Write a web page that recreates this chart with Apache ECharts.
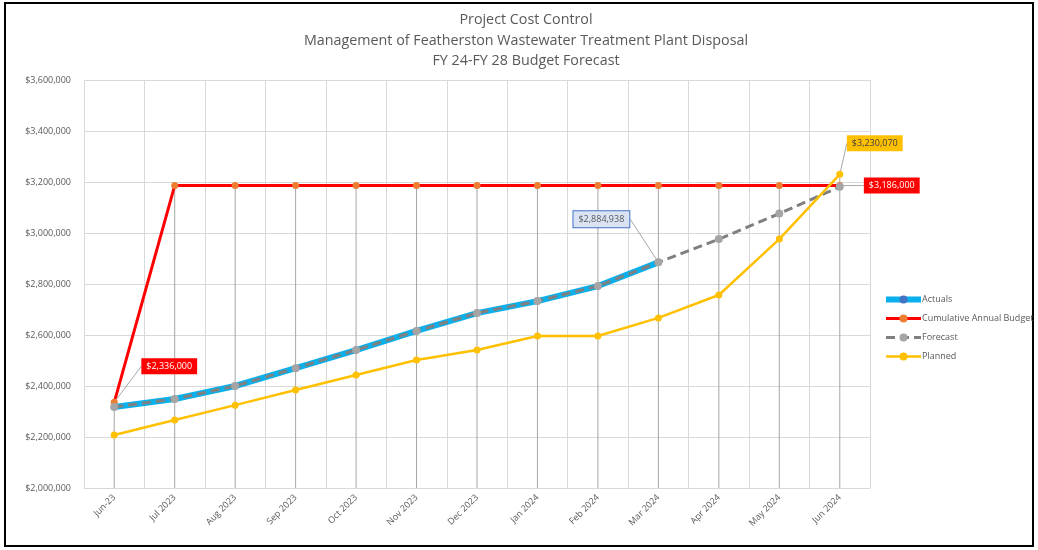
<!DOCTYPE html>
<html><head><meta charset="utf-8">
<script src="https://cdn.jsdelivr.net/npm/echarts@6/dist/echarts.min.js"></script>
<style>html,body{margin:0;padding:0;background:#fff}#c{width:1038px;height:550px}</style>
</head><body><div id="c"></div>
<script>
const categories = ['Jun-23','Jul 2023','Aug 2023','Sep 2023','Oct 2023','Nov 2023','Dec 2023','Jan 2024','Feb 2024','Mar 2024','Apr 2024','May 2024','Jun 2024'];
const actuals = [2318000,2349000,2400000,2470000,2541000,2616000,2686000,2733000,2792000,2884938,null,null,null];
const budget = [2336000,3186000,3186000,3186000,3186000,3186000,3186000,3186000,3186000,3186000,3186000,3186000,3186000];
const forecast = [2318000,2349000,2400000,2470000,2541000,2616000,2686000,2733000,2792000,2884938,2976000,3076000,3181000];
const planned = [2208000,2267000,2325000,2384000,2443000,2502000,2541000,2596000,2596000,2667000,2757000,2976000,3230070];
const yTicks = {min:2000000, max:3600000, step:200000};

const fmt = v => '$' + Math.round(v).toLocaleString('en-US');
const font = '"Open Sans", sans-serif';
const grey = '#595959';

function withLabels(arr, idxs, style) {
  return arr.map((v,i) => idxs.includes(i) ? {value:v, label:Object.assign({show:true, formatter: p => fmt(p.value)}, style)} : v);
}
const redLbl = {backgroundColor:'#FF0000', color:'#fff', padding:[4,5,3,5], fontSize:9, fontFamily:font, position:'inside'};

const drops = categories.map((c,i) => [i, Math.max(...[actuals[i],budget[i],forecast[i],planned[i]].filter(v=>v!=null))]);

const chart = echarts.init(document.getElementById('c'));
chart.setOption({
  animation:false,
  title:{text:'Project Cost Control\nManagement of Featherston Wastewater Treatment Plant Disposal\nFY 24-FY 28 Budget Forecast',
    left:521, textAlign:'center', top:5,
    textStyle:{fontFamily:font, fontSize:14.3, fontWeight:'normal', color:grey, lineHeight:20.5}},
  grid:{left:84, right:168, top:80, bottom:62},
  legend:{orient:'vertical', left:878, top:290, itemWidth:35, itemHeight:10, itemGap:10,
    lineStyle:{width:'inherit'},
    data:['Actuals','Cumulative Annual Budget','Forecast','Planned'],
    textStyle:{fontFamily:font, fontSize:9, color:grey, padding:[0,0,0,-4]}},
  xAxis:{type:'category', data:categories, boundaryGap:true,
    axisLine:{lineStyle:{color:'#D9D9D9'}}, axisTick:{show:false},
    splitLine:{show:true, lineStyle:{color:'#D9D9D9'}},
    axisLabel:{rotate:45, fontFamily:font, fontSize:9, color:grey, margin:8, interval:0}},
  yAxis:{type:'value', min:yTicks.min, max:yTicks.max, interval:yTicks.step,
    axisLine:{show:false}, axisTick:{show:false},
    splitLine:{lineStyle:{color:'#D9D9D9'}},
    axisLabel:{formatter:fmt, fontFamily:font, fontSize:9, color:grey, margin:13}},
  series:[
    {type:'custom', name:'drop', silent:true, z:1, data:drops,
      renderItem:(params, api) => {
        const t = api.coord([api.value(0), api.value(1)]);
        const b = api.coord([api.value(0), yTicks.min]);
        return {type:'line', shape:{x1:t[0],y1:t[1],x2:b[0],y2:b[1]}, style:{stroke:'#A6A6A6', lineWidth:1}};
      }},
    {type:'line', name:'Actuals', z:3, data:withLabels(actuals,[9],{backgroundColor:'#DAE3F3', borderColor:'#4472C4', borderWidth:1, color:grey, padding:[4,5,3,5], fontSize:9, fontFamily:font, position:'inside'}),
      lineStyle:{color:'#0AB0EC', width:6}, itemStyle:{color:'#4472C4'}, symbol:'circle', symbolSize:7, showSymbol:true,
      labelLayout:p => ({dx:-57, dy:-43}), labelLine:{show:true, lineStyle:{color:'#A6A6A6', width:1}}},
    {type:'line', name:'Cumulative Annual Budget', z:4, data:withLabels(budget,[0,12],redLbl),
      lineStyle:{color:'#FF0000', width:3}, itemStyle:{color:'#ED7D31'}, symbol:'circle', symbolSize:7,
      labelLayout:p => p.dataIndex===0 ? {dx:55, dy:-36} : {dx:52, dy:0},
      labelLine:{show:true, lineStyle:{color:'#A6A6A6', width:1}}},
    {type:'line', name:'Forecast', z:5, data:forecast,
      lineStyle:{color:'#808080', width:3, type:[9,5]}, itemStyle:{color:'#A5A5A5'}, symbol:'circle', symbolSize:8},
    {type:'line', name:'Planned', z:6, data:withLabels(planned,[12],{backgroundColor:'#FFC000', color:'#404040', padding:[4,5,3,5], fontSize:9, fontFamily:font, position:'inside'}),
      lineStyle:{color:'#FFC000', width:2.5}, itemStyle:{color:'#FFC000'}, symbol:'circle', symbolSize:7,
      labelLayout:p => ({dx:35, dy:-31}), labelLine:{show:true, lineStyle:{color:'#A6A6A6', width:1}}}
  ],
  graphic:[{type:'rect', shape:{x:5, y:3, width:1028, height:543}, style:{fill:'none', stroke:'#000', lineWidth:2}, silent:true}]
});
</script></body></html>
